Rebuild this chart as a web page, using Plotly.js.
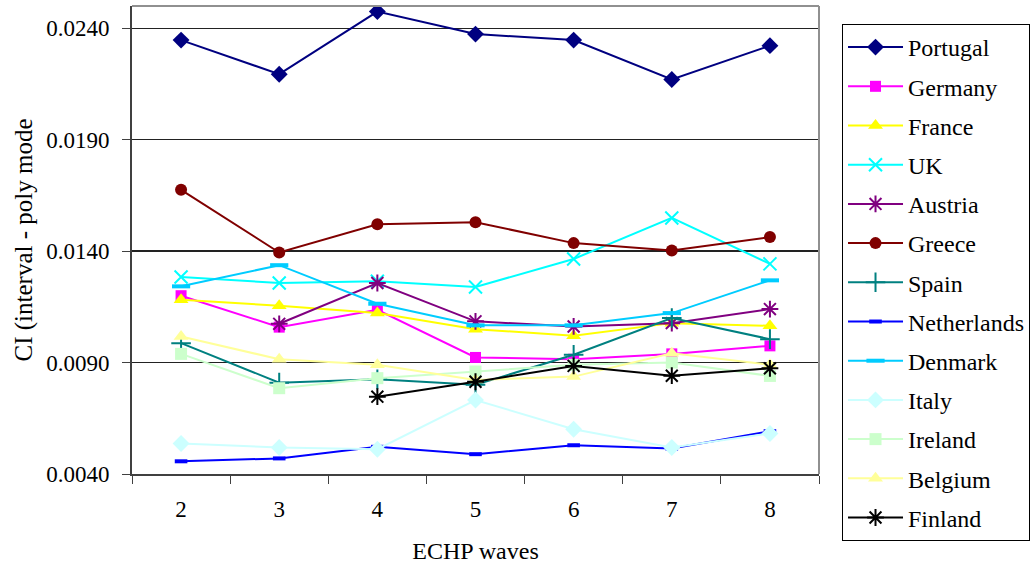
<!DOCTYPE html>
<html><head><meta charset="utf-8">
<script src="https://cdn.plot.ly/plotly-3.0.1.min.js"></script>
<style>
html,body{margin:0;padding:0;background:#fff;}
#chart{width:1035px;height:570px;}
</style>
</head><body><div id="chart"></div>
<script>
const waves = ["2","3","4","5","6","7","8"];
const portugal    = [0.02347, 0.02194, 0.02475, 0.02374, 0.02347, 0.02170, 0.02322];
const germany     = [0.01200, 0.01059, 0.01137, 0.00923, 0.00915, 0.00939, 0.00975];
const france      = [0.01182, 0.01155, 0.01122, 0.01050, 0.01020, 0.01077, 0.01065];
const uk          = [0.01284, 0.01257, 0.01265, 0.01239, 0.01365, 0.01549, 0.01343];
const austria     = [null,    0.01074, 0.01257, 0.01085, 0.01062, 0.01077, 0.01140];
const greece      = [0.01675, 0.01394, 0.01521, 0.01530, 0.01436, 0.01403, 0.01463];
const spain       = [0.00987, 0.00810, 0.00825, 0.00800, 0.00935, 0.01100, 0.01005];
const netherlands = [0.00457, 0.00470, 0.00522, 0.00489, 0.00529, 0.00514, 0.00592];
const denmark     = [0.01242, 0.01337, 0.01164, 0.01067, 0.01067, 0.01122, 0.01269];
const italy       = [0.00537, 0.00519, 0.00511, 0.00732, 0.00601, 0.00519, 0.00582];
const ireland     = [0.00939, 0.00785, 0.00830, 0.00860, 0.00890, 0.00900, 0.00840];
const belgium     = [0.01017, 0.00915, 0.00890, 0.00822, 0.00837, 0.00942, 0.00890];
const finland     = [null,    null,    0.00747, 0.00814, 0.00885, 0.00841, 0.00874];

const names = ["Portugal","Germany","France","UK","Austria","Greece","Spain","Netherlands","Denmark","Italy","Ireland","Belgium","Finland"];
const series = [portugal,germany,france,uk,austria,greece,spain,netherlands,denmark,italy,ireland,belgium,finland];
const colors = ["#000080","#FF00FF","#FFFF00","#00FFFF","#800080","#800000","#008080","#0000FF","#00CCFF","#CCFFFF","#CCFFCC","#FFFF99","#000000"];
const symbols = ["diamond","square","triangle-up","x-thin-open","asterisk-open","circle","cross-thin-open","line-ew-open","line-ew-open","diamond","square","triangle-up","asterisk-open"];
const sizes = [13,11,13,13,14,12,14,9,13,13,12,13,14];
const openSym = [false,false,false,true,true,false,true,true,true,false,false,false,true];

const traces = names.map((n,i)=>({
  type:"scatter", mode:"lines+markers", name:n, x:waves, y:series[i],
  legendgroup:"g"+i,
  line:{color:colors[i], width:2},
  marker:{symbol:symbols[i], size:sizes[i], color:colors[i],
          line:{color:colors[i], width: openSym[i] ? (symbols[i]==="line-ew-open"?4:2) : 0}},
  connectgaps:false
}));

const FAM = "Liberation Serif";
const f = s => ({family:FAM, size:s, color:"#000"});
const layout = {
  width:1035, height:570,
  margin:{l:132, r:215, t:6, b:96},
  paper_bgcolor:"#fff", plot_bgcolor:"#fff",
  font:f(23),
  showlegend:true,
  legend:{x:1.032, xanchor:"left", y:0.9615, yanchor:"top",
          bordercolor:"#000", borderwidth:1, bgcolor:"#fff",
          font:f(24), maxheight:560,
          traceorder:"grouped", tracegroupgap:5, itemwidth:55},
  xaxis:{type:"category", range:[-0.5,6.5], tickson:"boundaries",
         ticks:"outside", ticklen:8, tickcolor:"#404040", tickwidth:1,
         showline:true, linecolor:"#404040", linewidth:2, mirror:false,
         showgrid:false, zeroline:false, ticklabelstandoff:13,
         tickfont:f(23),
         title:{text:"ECHP waves", font:f(24), standoff:22}},
  yaxis:{range:[0.004,0.025], tick0:0.004, dtick:0.005, tickformat:".4f",
         ticks:"outside", ticklen:8, tickcolor:"#404040", tickwidth:1,
         showline:true, linecolor:"#404040", linewidth:2,
         showgrid:true, gridcolor:"#222", gridwidth:1.3, zeroline:false,
         ticklabelstandoff:8,
         tickfont:f(23),
         title:{text:"CI (interval - poly mode", font:f(25), standoff:6}},
  shapes:[
    {type:"line", xref:"paper", yref:"paper", x0:0, x1:1, y0:1, y1:1, line:{color:"#909090", width:2}},
    {type:"line", xref:"paper", yref:"paper", x0:1, x1:1, y0:0, y1:1, line:{color:"#909090", width:2}}
  ]
};
Plotly.newPlot("chart", traces, layout, {displayModeBar:false, staticPlot:true});
</script></body></html>
